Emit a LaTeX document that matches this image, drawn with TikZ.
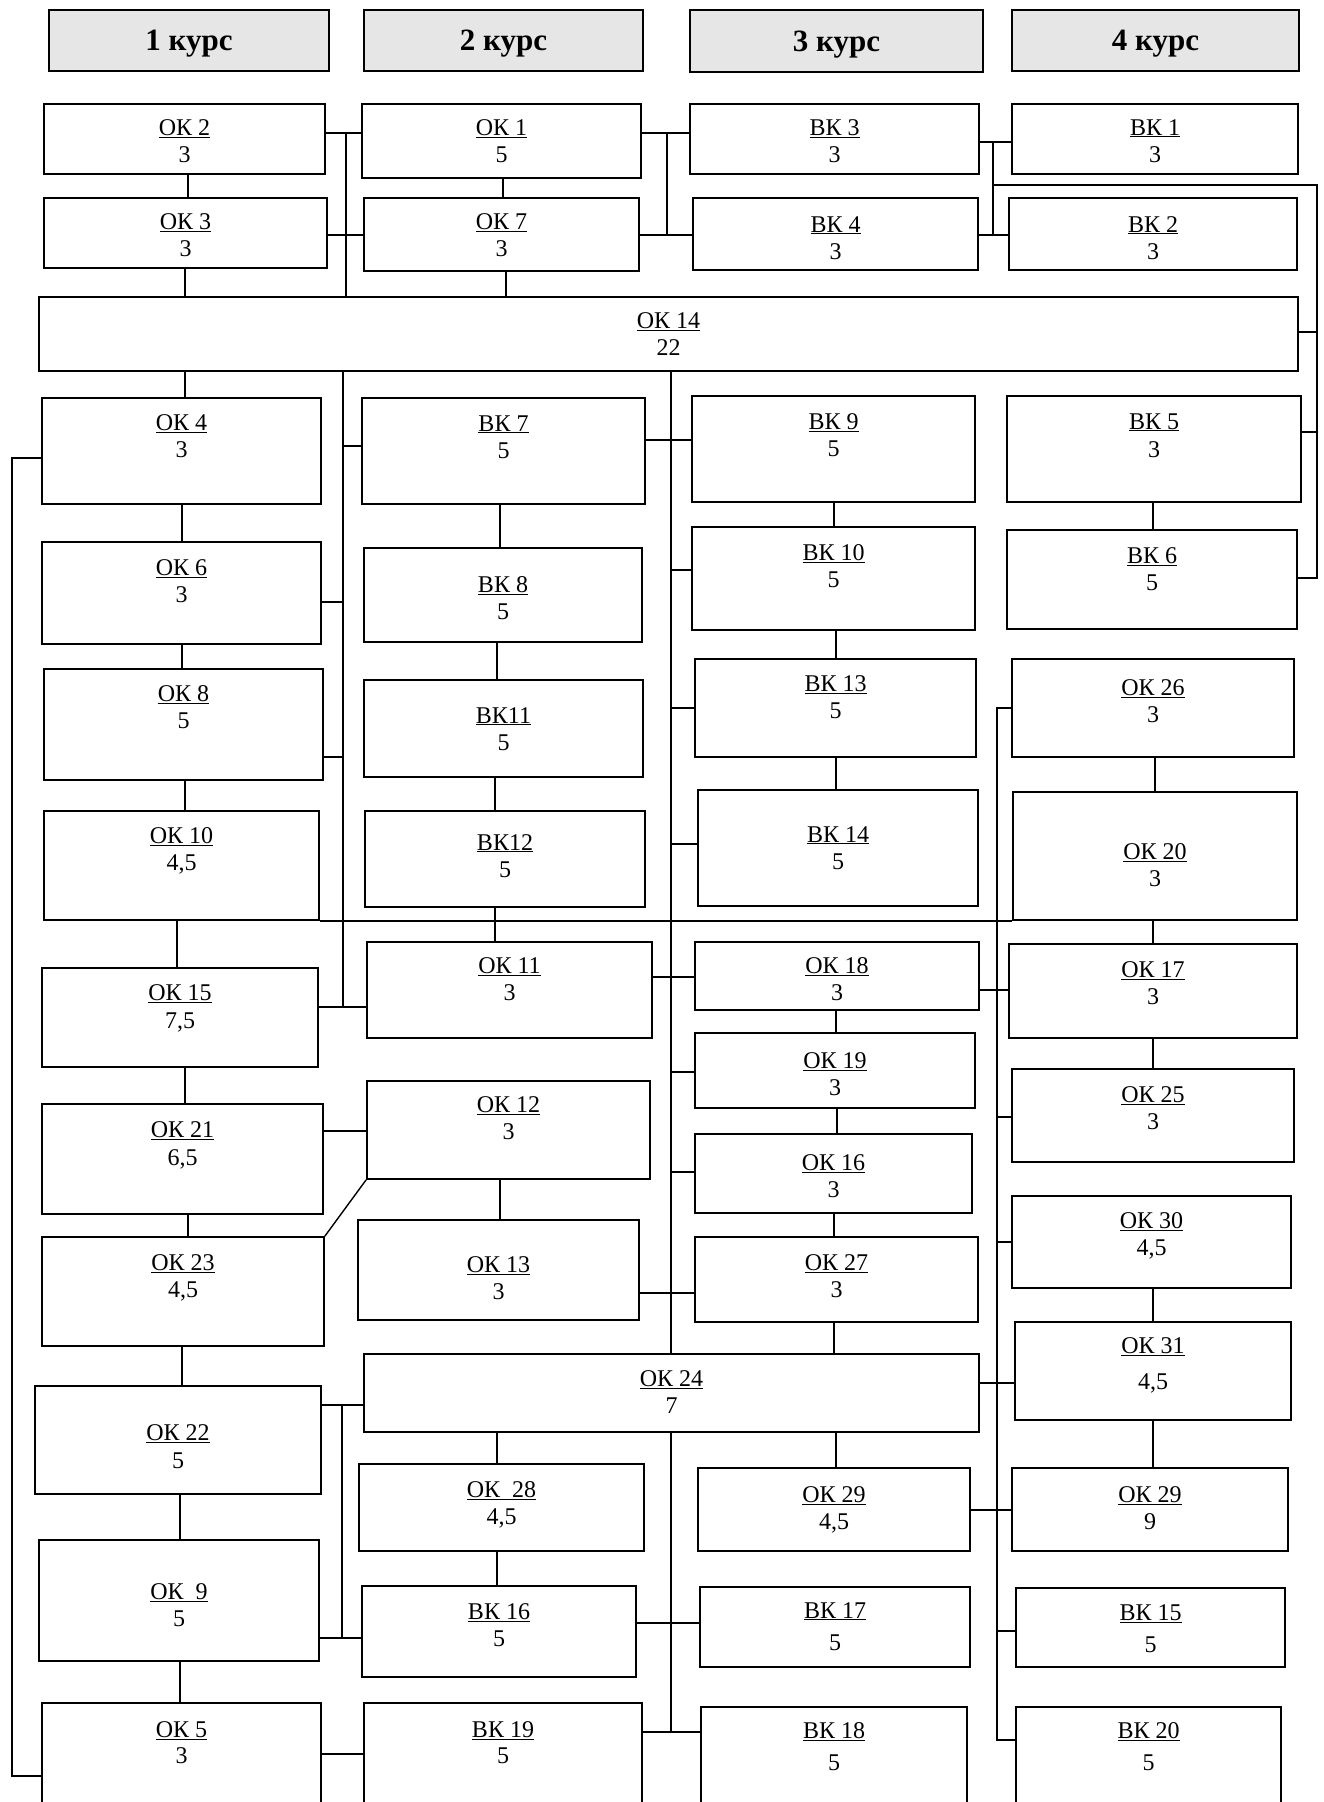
\documentclass[tikz,border=0pt]{standalone}
\usepackage{fontspec}
\setmainfont{Liberation Serif}
\definecolor{hdrgray}{HTML}{E6E6E6}
\tikzset{
  box/.style={draw, line width=1.8pt, inner sep=0pt},
  hdr/.style={draw, line width=1.8pt, fill=hdrgray, inner sep=0pt, text depth=0pt, font=\fontsize{31}{35}\selectfont\bfseries},
  lbl/.style={align=center, inner sep=0pt, anchor=north},
  conn/.style={line width=1.4pt},
}
\newcommand{\mybox}[9]{\node[box, minimum width={(#4-#2)*1pt}, minimum height={(#5-#3)*1pt},
  label={[lbl, font=\fontsize{24}{#9}\selectfont, yshift=-#8pt]north:{\underline{#6}\\#7}}] (#1) at ({(#2+#4)/2},{(#3+#5)/2}) {};}
\newcommand{\myhdr}[6]{\node[hdr, minimum width={(#4-#2)*1pt}, minimum height={(#5-#3)*1pt}] (#1) at ({(#2+#4)/2},{(#3+#5)/2}) {#6};}
\newcommand{\vcon}[3]{\draw[conn] (#1.south -| #3,0) -- (#2.north -| #3,0);}
\newcommand{\hcon}[3]{\draw[conn] (#1.east |- 0,#3) -- (#2.west |- 0,#3);}
\begin{document}
\begin{tikzpicture}[x=1pt,y=-1pt]
\useasboundingbox (0,0) rectangle (1324,1802);
\clip (0,0) rectangle (1324,1802);
% headers
\myhdr{h1}{49}{10}{329}{71}{1 курс}
\myhdr{h2}{364}{10}{643}{71}{2 курс}
\myhdr{h3}{690}{10}{983}{72}{3 курс}
\myhdr{h4}{1012}{10}{1299}{71}{4 курс}
% boxes
\mybox{ok2}{44}{104}{325}{174}{ОК 2}{3}{16}{27}
\mybox{ok1}{362}{104}{641}{178}{ОК 1}{5}{16}{27}
\mybox{vk3}{690}{104}{979}{174}{ВК 3}{3}{16}{27}
\mybox{vk1}{1012}{104}{1298}{174}{ВК 1}{3}{16}{27}
\mybox{ok3}{44}{198}{327}{268}{ОК 3}{3}{16}{27}
\mybox{ok7}{364}{198}{639}{271}{ОК 7}{3}{16}{27}
\mybox{vk4}{693}{198}{978}{270}{ВК 4}{3}{19}{27}
\mybox{vk2}{1009}{198}{1297}{270}{ВК 2}{3}{19}{27}
\mybox{ok14}{39}{297}{1298}{371}{ОК 14}{22}{16}{27}
\mybox{ok4}{42}{398}{321}{504}{ОК 4}{3}{17}{27}
\mybox{vk7}{362}{398}{645}{504}{ВК 7}{5}{18}{27}
\mybox{vk9}{692}{396}{975}{502}{ВК 9}{5}{18}{27}
\mybox{vk5}{1007}{396}{1301}{502}{ВК 5}{3}{18}{28}
\mybox{ok6}{42}{542}{321}{644}{ОК 6}{3}{18}{27}
\mybox{vk8}{364}{548}{642}{642}{ВК 8}{5}{29}{27}
\mybox{vk10}{692}{527}{975}{630}{ВК 10}{5}{18}{27}
\mybox{vk6}{1007}{530}{1297}{629}{ВК 6}{5}{18}{27}
\mybox{ok8}{44}{669}{323}{780}{ОК 8}{5}{17}{27}
\mybox{vk11}{364}{680}{643}{777}{ВК11}{5}{28}{27}
\mybox{vk13}{695}{659}{976}{757}{ВК 13}{5}{17}{27}
\mybox{ok26}{1012}{659}{1294}{757}{ОК 26}{3}{21}{27}
\mybox{ok10}{44}{811}{319}{920}{ОК 10}{4,5}{17}{27}
\mybox{vk12}{365}{811}{645}{907}{ВК12}{5}{24}{27}
\mybox{vk14}{698}{790}{978}{906}{ВК 14}{5}{37}{27}
\mybox{ok20}{1013}{792}{1297}{920}{ОК 20}{3}{52}{27}
\mybox{ok15}{42}{968}{318}{1067}{ОК 15}{7,5}{17}{28}
\mybox{ok11}{367}{942}{652}{1038}{ОК 11}{3}{16}{27}
\mybox{ok18}{695}{942}{979}{1010}{ОК 18}{3}{16}{27}
\mybox{ok17}{1009}{944}{1297}{1038}{ОК 17}{3}{18}{27}
\mybox{ok19}{695}{1033}{975}{1108}{ОК 19}{3}{20}{27}
\mybox{ok25}{1012}{1069}{1294}{1162}{ОК 25}{3}{18}{27}
\mybox{ok21}{42}{1104}{323}{1214}{ОК 21}{6,5}{18}{28}
\mybox{ok12}{367}{1081}{650}{1179}{ОК 12}{3}{16}{27}
\mybox{ok16}{695}{1134}{972}{1213}{ОК 16}{3}{21}{27}
\mybox{ok30}{1012}{1196}{1291}{1288}{ОК 30}{4,5}{17}{27}
\mybox{ok23}{42}{1237}{324}{1346}{ОК 23}{4,5}{18}{27}
\mybox{ok13}{358}{1220}{639}{1320}{ОК 13}{3}{37}{27}
\mybox{ok27}{695}{1237}{978}{1322}{ОК 27}{3}{18}{27}
\mybox{ok31}{1015}{1322}{1291}{1420}{ОК 31}{4,5}{16}{36}
\mybox{ok24}{364}{1354}{979}{1432}{ОК 24}{7}{17}{27}
\mybox{ok22}{35}{1386}{321}{1494}{ОК 22}{5}{39}{28}
\mybox{ok28}{359}{1464}{644}{1551}{ОК\ \ 28}{4,5}{18}{27}
\mybox{ok29a}{698}{1468}{970}{1551}{ОК 29}{4,5}{19}{27}
\mybox{ok29b}{1012}{1468}{1288}{1551}{ОК 29}{9}{19}{27}
\mybox{ok9}{39}{1540}{319}{1661}{ОК\ \ 9}{5}{44}{27}
\mybox{vk16}{362}{1586}{636}{1677}{ВК 16}{5}{18}{27}
\mybox{vk17}{700}{1587}{970}{1667}{ВК 17}{5}{16}{32}
\mybox{vk15}{1016}{1588}{1285}{1667}{ВК 15}{5}{17}{32}
\mybox{ok5}{42}{1703}{321}{1830}{ОК 5}{3}{19}{26}
\mybox{vk19}{364}{1703}{642}{1830}{ВК 19}{5}{19}{26}
\mybox{vk18}{701}{1707}{967}{1830}{ВК 18}{5}{16}{32}
\mybox{vk20}{1016}{1707}{1281}{1830}{ВК 20}{5}{16}{32}
% named junction points
\coordinate (r1) at (993,185);
\coordinate (r2) at (1317,185);
\coordinate (r3) at (1317,578);
\coordinate (l1) at (12,458);
\coordinate (l2) at (12,1776);
\coordinate (m1) at (997,708);
\coordinate (m2) at (997,1740);
% top connectors
\hcon{ok2}{ok1}{133}
\draw[conn] (346,133) -- (ok14.north -| 346,0);
\hcon{ok3}{ok7}{235}
\vcon{ok2}{ok3}{188}
\vcon{ok3}{ok14}{185}
\vcon{ok1}{ok7}{503}
\vcon{ok7}{ok14}{506}
\hcon{ok1}{vk3}{133}
\draw[conn] (667,133) -- (667,235);
\hcon{ok7}{vk4}{235}
\hcon{vk3}{vk1}{142}
\draw[conn] (993,142) -- (993,235);
\hcon{vk4}{vk2}{235}
\draw[conn] (r1) -- (r2) -- (r3) -- (vk6.east |- r3);
\draw[conn] (ok14.east |- 0,332) -- (1317,332);
\draw[conn] (vk5.east |- 0,432) -- (1317,432);
% column 1 / 2 under OK14
\vcon{ok14}{ok4}{185}
\draw[conn] (ok14.south -| 343,0) -- (343,1007);
\hcon{ok15}{ok11}{1007}
\draw[conn] (343,446) -- (vk7.west |- 0,446);
\draw[conn] (ok6.east |- 0,602) -- (343,602);
\draw[conn] (ok8.east |- 0,757) -- (343,757);
\vcon{ok4}{ok6}{182}
\vcon{ok6}{ok8}{182}
\vcon{ok8}{ok10}{185}
\draw[conn] (ok4.west |- l1) -- (l1) -- (l2) -- (ok5.west |- l2);
\draw[conn] (ok10.south east) -- (ok20.south west);
\vcon{ok10}{ok15}{177}
\vcon{vk7}{vk8}{500}
\vcon{vk8}{vk11}{497}
\vcon{vk11}{vk12}{495}
\vcon{vk12}{ok11}{495}
% column 3 trunk
\draw[conn] (ok14.south -| 671,0) -- (ok24.north -| 671,0);
\hcon{vk7}{vk9}{440}
\draw[conn] (671,570) -- (vk10.west |- 0,570);
\draw[conn] (671,708) -- (vk13.west |- 0,708);
\draw[conn] (671,844) -- (vk14.west |- 0,844);
\hcon{ok11}{ok18}{977}
\draw[conn] (671,1072) -- (ok19.west |- 0,1072);
\draw[conn] (671,1172) -- (ok16.west |- 0,1172);
\hcon{ok13}{ok27}{1293}
\vcon{vk9}{vk10}{834}
\vcon{vk10}{vk13}{836}
\vcon{vk13}{vk14}{836}
\vcon{vk5}{vk6}{1153}
% column 4 trunk
\draw[conn] (ok26.west |- m1) -- (m1) -- (m2) -- (vk20.west |- m2);
\hcon{ok18}{ok17}{990}
\draw[conn] (997,1117) -- (ok25.west |- 0,1117);
\draw[conn] (997,1242) -- (ok30.west |- 0,1242);
\hcon{ok24}{ok31}{1383}
\hcon{ok29a}{ok29b}{1510}
\draw[conn] (997,1631) -- (vk15.west |- 0,1631);
\vcon{ok26}{ok20}{1155}
\vcon{ok20}{ok17}{1153}
\vcon{ok17}{ok25}{1153}
\vcon{ok30}{ok31}{1153}
\vcon{ok31}{ok29b}{1153}
\vcon{ok18}{ok19}{836}
\vcon{ok19}{ok16}{837}
\vcon{ok16}{ok27}{834}
\vcon{ok27}{ok24}{834}
% lower left
\vcon{ok15}{ok21}{185}
\hcon{ok21}{ok12}{1131}
\draw[conn] (ok12.south west) -- (ok23.north east);
\vcon{ok21}{ok23}{188}
\vcon{ok12}{ok13}{500}
\vcon{ok23}{ok22}{182}
\hcon{ok22}{ok24}{1405}
\draw[conn] (342,1405) -- (342,1638);
\hcon{ok9}{vk16}{1638}
\vcon{ok22}{ok9}{180}
\vcon{ok9}{ok5}{180}
\vcon{ok24}{ok28}{497}
\vcon{ok28}{vk16}{497}
\vcon{ok24}{ok29a}{836}
\draw[conn] (ok24.south -| 671,0) -- (671,1732);
\hcon{vk16}{vk17}{1623}
\hcon{vk19}{vk18}{1732}
\hcon{ok5}{vk19}{1754}
\end{tikzpicture}
\end{document}
